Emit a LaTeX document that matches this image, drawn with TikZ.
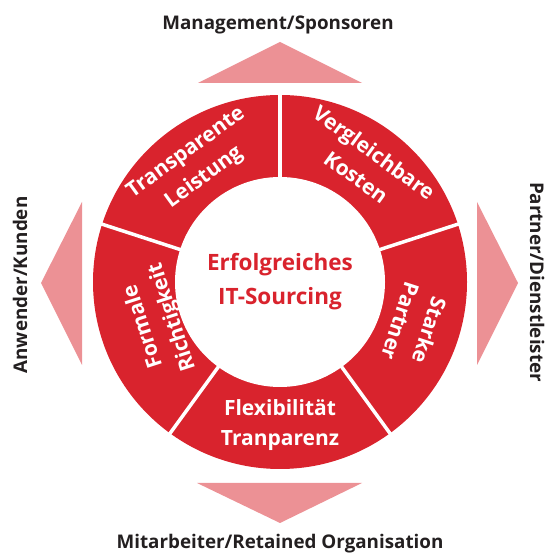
\documentclass[tikz,border=0pt]{standalone}
\usepackage{fontspec}
\setmainfont{Open Sans}
\usetikzlibrary{calc}
\begin{document}
\definecolor{ringred}{HTML}{D9232D}
\definecolor{arrowpink}{HTML}{EC9195}
\definecolor{labelgray}{HTML}{231F20}
\begin{tikzpicture}[x=1pt,y=1pt,
  seglabel/.style={text=white,font=\bfseries\fontsize{21}{30.5}\selectfont,align=center,inner sep=0pt},
  sidelabel/.style={text=labelgray,font=\bfseries\fontsize{18.8}{20}\selectfont,inner sep=0pt},
  pointer/.style={fill=arrowpink}]
\useasboundingbox (0,0) rectangle (545,553);
\coordinate (c) at (280,271);
% ring and hub
\fill[ringred] (c) circle[radius=187];
\fill[white] (c) circle[radius=105];
\foreach \a in {90,18,-54,-126,162}
  \draw[white,line width=3.5pt] ($(c)+(\a:103)$) -- ($(c)+(\a:190)$);
% segment labels
\node[seglabel,rotate=36]  (leistung) at ($(c)+(126:144)$) {Transparente\\Leistung};
\node[seglabel,rotate=-36] (kosten)   at ($(c)+(54:145)$)  {Vergleichbare\\Kosten};
\node[seglabel,rotate=-108](partner)  at ($(c)+(-18:142)$) {Starke\\Partner};
\node[seglabel]            (flex)     at ($(c)+(-90:143)$) {Flexibilität\\Tranparenz};
\node[seglabel,rotate=108] (formal)   at ($(c)+(198:128)$) {Formale\\Richtigkeit};
% hub label
\node[text=ringred,font=\bfseries\fontsize{22.5}{34}\selectfont,align=center,inner sep=0pt] (hub) at (c) {Erfolgreiches\\IT-Sourcing};
% pointers
\fill[pointer] (280,511) -- (198,470) -- (362,470) -- cycle;
\fill[pointer] (280,30) -- (197,70) -- (362,70) -- cycle;
\fill[pointer] (41,270) -- (82,351) -- (82,188) -- cycle;
\fill[pointer] (518,270) -- (477,351) -- (477,188) -- cycle;
% stakeholder labels
\node[sidelabel,anchor=base] (mgmt) at (278,523) {Management/Sponsoren};
\node[sidelabel,anchor=base] (staff) at (280,5) {Mitarbeiter/Retained Organisation};
\node[sidelabel,anchor=base,rotate=90] (users) at (27,268) {Anwender/Kunden};
\node[sidelabel,anchor=base,rotate=-90] (vendors) at (530,271) {Partner/Dienstleister};
\end{tikzpicture}
\end{document}
